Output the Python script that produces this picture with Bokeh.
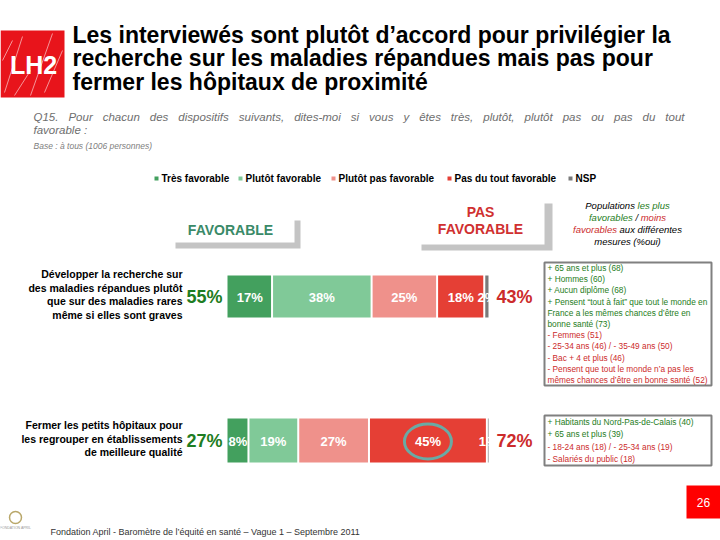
from bokeh.plotting import figure
from bokeh.models import Range1d, Label
from bokeh.core.properties import value
from bokeh.embed import file_html
from bokeh.resources import INLINE

# ---------------- data ----------------
items = [
    ["Développer la recherche sur", "des maladies répandues plutôt",
     "que sur des maladies rares", "même si elles sont graves"],
    ["Fermer les petits hôpitaux pour", "les regrouper en établissements",
     "de meilleure qualité"],
]
series = ["Très favorable", "Plutôt favorable", "Plutôt pas favorable",
          "Pas du tout favorable", "NSP"]
tres_fav = [17, 8]
plutot_fav = [38, 19]
plutot_pas = [25, 27]
pas_du_tout = [18, 45]
nsp = [2, 1]
colors = ["#43a05e", "#80c998", "#ef918b", "#e53f35", "#7a7a7a"]

box1_lines = [
    ("+ 65 ans et plus (68)", "g"),
    ("+ Hommes (60)", "g"),
    ("+ Aucun diplôme (68)", "g"),
    ("+ Pensent \u201ctout à fait\u201d que tout le monde en", "g"),
    ("France a les mêmes chances d\u2019être en", "g"),
    ("bonne santé (73)", "g"),
    ("- Femmes (51)", "r"),
    ("- 25-34 ans (46) / - 35-49 ans (50)", "r"),
    ("- Bac + 4 et plus (46)", "r"),
    ("- Pensent que tout le monde n\u2019a pas les", "r"),
    ("mêmes chances d\u2019être en bonne santé (52)", "r"),
]
box2_lines = [
    ("+ Habitants du Nord-Pas-de-Calais (40)", "g"),
    ("+ 65 ans et plus (39)", "g"),
    ("- 18-24 ans (18) / - 25-34 ans (19)", "r"),
    ("- Salariés du public (18)", "r"),
]

title_lines = ["Les interviewés sont plutôt d\u2019accord pour privilégier la",
               "recherche sur les maladies répandues mais pas pour",
               "fermer les hôpitaux de proximité"]
subtitle_1 = "Q15. Pour chacun des dispositifs suivants, dites-moi si vous y êtes très, plutôt, plutôt pas ou pas du tout"
subtitle_2 = "favorable :"
base_text = "Base : à tous (1006 personnes)"
header_parts = [
    [("Populations ", "k"), ("les plus", "g")],
    [("favorables", "g"), (" / ", "k"), ("moins", "r")],
    [("favorables", "r"), (" aux différentes", "k")],
    [("mesures (%oui)", "k")],
]
footer_text = "Fondation April - Baromètre de l\u2019équité en santé \u2013 Vague 1 \u2013 Septembre 2011"
page_no = "26"

# ---------------- helpers / layout ----------------
F = value("Liberation Sans")
GREEN_T = "#1e7d22"
RED_T = "#cc2b2b"
BLACK = "#000000"
BAR_X0 = 227
PX_PER_PCT = 2.62
ROW_Y = [296, 440]
ROW_H = [42, 44]

# Arial / Liberation Sans regular advance widths (per 1000 em)
_W = {" ": 278, "!": 278, "\"": 355, "%": 889, "'": 191, "(": 333, ")": 333, "+": 584,
      ",": 278, "-": 333, ".": 278, "/": 278, ":": 278, "\u2019": 222, "\u201c": 333,
      "\u201d": 333, "\u2013": 556}
for c in "0123456789":
    _W[c] = 556
for c, w in zip("ABCDEFGHIJKLMNOPQRSTUVWXYZ",
                [667, 667, 722, 722, 667, 611, 778, 722, 278, 500, 667, 556, 833, 722, 778,
                 667, 778, 722, 667, 611, 722, 667, 944, 667, 667, 611]):
    _W[c] = w
for c, w in zip("abcdefghijklmnopqrstuvwxyz",
                [556, 556, 500, 556, 556, 278, 556, 556, 222, 222, 500, 222, 833, 556, 556,
                 556, 556, 333, 500, 278, 556, 500, 722, 500, 500, 500]):
    _W[c] = w
_ACC = {"é": "e", "è": "e", "ê": "e", "à": "a", "â": "a", "ô": "o", "î": "i", "û": "u", "ù": "u", "ç": "c"}


def tw(s, size):
    return sum(_W.get(_ACC.get(c, c), 556) for c in s) * size / 1000.0


p = figure(width=720, height=540, x_range=Range1d(0, 720), y_range=Range1d(540, 0),
           output_backend="svg", toolbar_location=None, min_border=0,
           x_axis_type=None, y_axis_type=None)
p.grid.visible = False
p.outline_line_color = None
p.background_fill_color = "white"
p.border_fill_color = "white"


def txt(x, y, t, size=11, color="black", style="normal", align="left"):
    p.text(x=[x], y=[y], text=[t], text_font=F, text_font_size=f"{size}px",
           text_color=color, text_font_style=style, text_align=align,
           text_baseline="middle")


# logo LH2
p.quad(left=[0], right=[64], top=[30], bottom=[97], fill_color="#e8141b", line_color=None)
for (x0, y0, x1, y1) in [(4, 92, 22, 36), (30, 95, 52, 33), (44, 92, 62, 50), (2, 60, 12, 40), (14, 95, 30, 70)]:
    p.line([x0, x1], [y0, y1], line_color="white", line_width=1, line_alpha=0.55)
txt(33, 64, "LH2", size=25, color="white", style="bold", align="center")

# title
for i, t in enumerate(title_lines):
    txt(72, 34 + i * 23.5, t, size=23, style="bold")

# subtitle (justified between x=33 and x=684)
sub_size = 11.5
words = subtitle_1.split(" ")
natural = sum(tw(w, sub_size) for w in words)
gap = (684 - 33 - natural) / (len(words) - 1)
xw = 33
for w in words:
    txt(xw, 116, w, size=sub_size, color="#6e6e6e", style="italic")
    xw += tw(w, sub_size) + gap
txt(33, 129, subtitle_2, size=sub_size, color="#6e6e6e", style="italic")
txt(33, 145, base_text, size=8.5, color="#808080", style="italic")

# legend
legend_x = [156, 240, 333, 449, 570]
p.scatter(x=legend_x, y=[178] * 5, marker="square", size=4, fill_color=colors, line_color=None)
for lx, s in zip(legend_x, series):
    txt(lx + 5, 178, s, size=10, style="bold")

# header boxes
p.quad(left=[175], right=[300], top=[220], bottom=[248], fill_color="#c4c4c4", line_color=None)
p.quad(left=[165], right=[294], top=[205], bottom=[242], fill_color="white", line_color=None)
txt(230, 229, "FAVORABLE", size=14, color="#3a8a68", style="bold", align="center")

p.quad(left=[421], right=[552], top=[203], bottom=[250], fill_color="#c4c4c4", line_color=None)
p.quad(left=[400], right=[544], top=[195], bottom=[244], fill_color="white", line_color=None)
txt(480, 211, "PAS", size=14, color="#d03030", style="bold", align="center")
txt(480, 228, "FAVORABLE", size=14, color="#d03030", style="bold", align="center")

# populations header (multi-coloured, centred lines; spaces handled as offsets)
hs = 9.5
cmap = {"k": BLACK, "g": GREEN_T, "r": RED_T}
for i, parts in enumerate(header_parts):
    total = sum(tw(t, hs) for t, _ in parts)
    x = 627 - total / 2
    for t, c in parts:
        lead = len(t) - len(t.lstrip(" "))
        core = t.strip(" ")
        txt(x + tw(" " * lead, hs), 205 + i * 12, core, size=hs, color=cmap[c], style="italic")
        x += tw(t, hs)

# bars
all_series = [tres_fav, plutot_fav, plutot_pas, pas_du_tout, nsp]
for r in range(2):
    cum = 0
    yc, h = ROW_Y[r], ROW_H[r]
    for s_i, ser in enumerate(all_series):
        v = ser[r]
        left = BAR_X0 + cum * PX_PER_PCT
        right = BAR_X0 + (cum + v) * PX_PER_PCT
        p.quad(left=[left + (0 if s_i == 0 else 1)], right=[right - 1],
               top=[yc - h / 2], bottom=[yc + h / 2], fill_color=colors[s_i], line_color=None)
        txt((left + right) / 2, yc + 1, f"{v}%", size=13, color="white", style="bold", align="center")
        if r == 1 and s_i == 3:
            p.ellipse(x=[(left + right) / 2], y=[yc + 1], width=[47], height=[35],
                      fill_color=None, line_color="#6aaaa5", line_width=3)
        cum += v
    fav = tres_fav[r] + plutot_fav[r]
    pas = plutot_pas[r] + pas_du_tout[r]
    p.add_layout(Label(x=204, y=yc, text=f"{fav}%", text_font="Liberation Sans", text_font_size="18px",
                       text_font_style="bold", text_color=GREEN_T, text_align="center",
                       text_baseline="middle"))
    p.add_layout(Label(x=514, y=yc, text=f"{pas}%", text_font="Liberation Sans", text_font_size="18px",
                       text_font_style="bold", text_color=RED_T, text_align="center",
                       text_baseline="middle", background_fill_color="white",
                       background_fill_alpha=0.85, padding=1))
    n = len(items[r])
    for j, line in enumerate(items[r]):
        txt(182, yc - (n - 1) * 13.5 / 2 + j * 13.5 - 2, line, size=10.5, style="bold", align="right")


# side boxes
def side_box(top, bottom, lines):
    p.quad(left=[544], right=[711], top=[top], bottom=[bottom], fill_color="white",
           line_color="#808080", line_width=2)
    step = (bottom - top) / len(lines)
    for i, (t, c) in enumerate(lines):
        txt(547, top + step * (i + 0.5), t, size=8.3, color=GREEN_T if c == "g" else RED_T)


side_box(262, 385, box1_lines)
side_box(415, 465, box2_lines)

# footer
p.quad(left=[686], right=[720], top=[485], bottom=[518], fill_color="#ff0000", line_color=None)
txt(703, 502, page_no, size=12, color="white", align="center")
p.circle(x=[15], y=[517], radius=6, fill_color=None, line_color="#b9a76a", line_width=1.5)
txt(15, 527, "FONDATION APRIL", size=3.5, color="#999999", align="center")
txt(50, 531, footer_text, size=9, color="#333333")

open("out.html", "w").write(file_html(p, INLINE))
